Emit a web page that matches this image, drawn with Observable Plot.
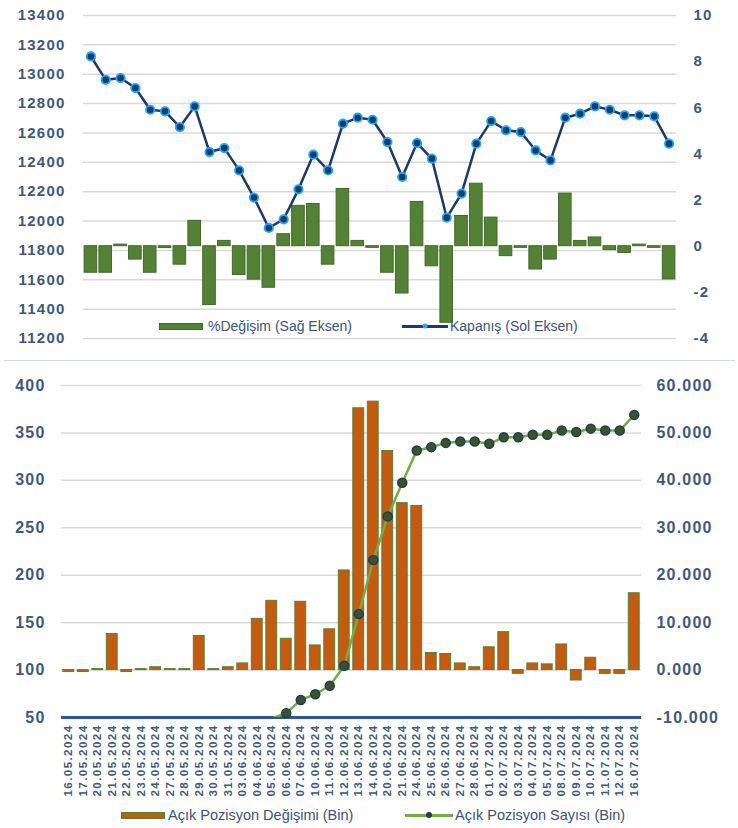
<!DOCTYPE html>
<html>
<head>
<meta charset="utf-8">
<script src="https://cdn.jsdelivr.net/npm/d3@7"></script>
<script src="https://cdn.jsdelivr.net/npm/@observablehq/plot@0.6"></script>
<style>
  body { margin: 0; background: #fff; font-family: "Liberation Sans", Arial, sans-serif; }
  #wrap { position: relative; width: 738px; height: 828px; overflow: hidden; background: #fff; }
  #top { position: absolute; left: 0; top: 0; }
  #bottom { position: absolute; left: 0; top: 362px; }
  .sep { position: absolute; left: 4px; width: 731px; top: 360px; height: 1px; background: #d6dce5; }
  .leg { position: absolute; display: flex; align-items: center; height: 16px; font-size: 14px; color: #3b5378; white-space: nowrap; }
  .sw { display: inline-block; box-sizing: border-box; }
  .ln { position: relative; display: inline-block; height: 3px; }
  .ln i { position: absolute; top: 50%; left: 50%; border-radius: 50%; transform: translate(-50%, -50%); }
</style>
</head>
<body>
<div id="wrap">
  <div id="top"></div>
  <div class="sep"></div>
  <div id="bottom"></div>
  <div class="leg" style="left:159px;top:318px"><span class="sw" style="width:44px;height:7px;background:#548235;border:1px solid #41692a;margin-right:5px"></span><span>%Değişim (Sağ Eksen)</span></div>
  <div class="leg" style="left:402px;top:318px"><span class="ln" style="width:46px;background:#1f3864;margin-right:2px"><i style="width:5px;height:5px;background:#22a7f0"></i></span><span>Kapanış (Sol Eksen)</span></div>
  <div class="leg" style="left:121px;top:807px;font-size:14.5px"><span class="sw" style="width:44px;height:7px;background:#c55a11;border:1px solid #548235;margin-right:3px"></span><span>Açık Pozisyon Değişimi (Bin)</span></div>
  <div class="leg" style="left:405px;top:807px;font-size:14.5px"><span class="ln" style="width:48px;background:#70ad47;margin-right:2px"><i style="width:6px;height:6px;background:#1f3864"></i></span><span>Açık Pozisyon Sayısı (Bin)</span></div>
</div>
<script>
// ---------- data ----------
const dates = ["16.05.2024","17.05.2024","20.05.2024","21.05.2024","22.05.2024","23.05.2024","24.05.2024","27.05.2024","28.05.2024","29.05.2024","30.05.2024","31.05.2024","03.06.2024","04.06.2024","05.06.2024","06.06.2024","07.06.2024","10.06.2024","11.06.2024","12.06.2024","13.06.2024","14.06.2024","20.06.2024","21.06.2024","24.06.2024","25.06.2024","26.06.2024","27.06.2024","28.06.2024","01.07.2024","02.07.2024","03.07.2024","04.07.2024","05.07.2024","08.07.2024","09.07.2024","10.07.2024","11.07.2024","12.07.2024","16.07.2024"];
const kapanis = [13121,12962,12974,12906,12758,12747,12640,12781,12470,12497,12345,12160,11953,12012,12216,12452,12345,12663,12704,12690,12538,12300,12531,12425,12023,12187,12527,12681,12618,12606,12481,12413,12704,12731,12781,12758,12720,12720,12713,12527];
const degisim = [-1.15,-1.15,0.07,-0.58,-1.15,-0.08,-0.8,1.1,-2.55,0.23,-1.25,-1.45,-1.8,0.52,1.75,1.83,-0.8,2.48,0.23,-0.07,-1.15,-2.05,1.92,-0.87,-3.32,1.31,2.71,1.24,-0.43,-0.07,-1.01,-0.58,2.28,0.23,0.38,-0.17,-0.29,0.07,-0.07,-1.44];
const pozDegisim = [98,98,101,138,98,101,103,101,101,136,101,103,107,154,173,133,172,126,143,205,376,383,331,276,273,118,117,107,103,124,140,96,107,106,127,89,113,96,96,181];
const pozSayisi = [null,null,null,null,null,null,null,null,null,null,null,null,null,null,-10.2,-9.1,-6.3,-5.1,-3.3,0.9,11.8,23.2,32.4,39.5,46.3,47.0,47.9,48.2,48.2,47.7,49.1,49.1,49.6,49.6,50.5,50.2,50.9,50.5,50.5,53.8];
const topLeftTicks = d3.range(11200, 13401, 200);
const topRightTicks = d3.range(-4, 11, 2);
const botLeftTicks = d3.range(50, 401, 50);
const botRightTicks = d3.range(-10, 61, 10);

const labelColor = "#40587a";
const font = "'Liberation Sans', Arial, sans-serif";

// ---------- top panel ----------
const topRight = d3.scaleLinear([-4, 10], [11200, 13400]); // right axis -> left axis units
const topData = dates.map((d, i) => ({date: d, close: kapanis[i], chg: degisim[i], y0: topRight(0), y1: topRight(degisim[i])}));

const topPlot = Plot.plot({
  width: 738, height: 360,
  marginLeft: 83, marginRight: 62, marginTop: 15, marginBottom: 22,
  style: {fontFamily: font, background: "transparent", overflow: "visible"},
  x: {type: "band", domain: dates, paddingInner: 0.15, paddingOuter: 0.075, round: false, axis: null},
  y: {domain: [11200, 13400], axis: null},
  marks: [
    Plot.gridY(topLeftTicks, {stroke: "#d9d9d9", strokeOpacity: 1, strokeWidth: 1.5}),
    Plot.barY(topData, {x: "date", y1: "y0", y2: "y1", fill: "#548235", stroke: "#41692a", strokeWidth: 1}),
    Plot.line(topData, {x: "date", y: "close", stroke: "#1f3864", strokeWidth: 2.5}),
    Plot.dot(topData, {x: "date", y: "close", r: 4.2, fill: "#123d73", stroke: "#22a7f0", strokeWidth: 1.8}),
    Plot.axisY(topLeftTicks, {anchor: "left", label: null, tickSize: 0, tickPadding: 18, fontSize: 15, fontWeight: "bold", fill: labelColor, tickFormat: d => String(d)}),
    Plot.axisY(topRightTicks.map(v => topRight(v)), {anchor: "right", label: null, tickSize: 0, tickPadding: 17, fontSize: 15, fontWeight: "bold", fill: labelColor, textAnchor: "start", tickFormat: d => String(Math.round(topRight.invert(d)))})
  ]
});
document.getElementById("top").append(topPlot);

// ---------- bottom panel ----------
const botRight = d3.scaleLinear([-10, 60], [50, 400]); // right axis -> left axis units
const botData = dates.map((d, i) => ({date: d, chg: pozDegisim[i], cnt: pozSayisi[i], cntY: pozSayisi[i] == null ? null : botRight(pozSayisi[i])}));

const botPlot = Plot.plot({
  width: 738, height: 440,
  marginLeft: 61, marginRight: 97, marginTop: 23, marginBottom: 85,
  style: {fontFamily: font, background: "transparent", overflow: "visible"},
  x: {type: "band", domain: dates, paddingInner: 0.25, paddingOuter: 0.125, round: false, axis: null},
  y: {domain: [50, 400], axis: null},
  marks: [
    Plot.gridY(botLeftTicks.filter(v => v > 50), {stroke: "#d9d9d9", strokeOpacity: 1, strokeWidth: 1.5}),
    Plot.barY(botData, {x: "date", y1: () => 100, y2: "chg", fill: "#c55a11", stroke: "#548235", strokeWidth: 1}),
    Plot.ruleY([50], {stroke: "#2f5597", strokeWidth: 3}),
    Plot.line(botData, {x: "date", y: "cntY", stroke: "#70ad47", strokeWidth: 2.5, clip: true}),
    Plot.dot(botData.filter(d => d.cnt != null && d.cnt >= -10), {x: "date", y: "cntY", r: 4.5, fill: "#375623", stroke: "#1f3864", strokeWidth: 1.5}),
    Plot.axisY(botLeftTicks, {anchor: "left", label: null, tickSize: 0, tickPadding: 16, fontSize: 16, fontWeight: "bold", fill: labelColor, tickFormat: d => String(d)}),
    Plot.axisY(botRightTicks.map(v => botRight(v)), {anchor: "right", label: null, tickSize: 0, tickPadding: 15, fontSize: 16, fontWeight: "bold", fill: labelColor, textAnchor: "start", tickFormat: d => Math.round(botRight.invert(d)).toFixed(3)}),
    Plot.axisX(dates, {anchor: "bottom", label: null, tickRotate: -90, tickSize: 0, tickPadding: 7, fontSize: 11.6, fontWeight: "bold", fill: labelColor})
  ]
});
document.getElementById("bottom").append(botPlot);

// letter spacing tweaks to match the wide reference lettering
for (const svg of [topPlot, botPlot]) {
  svg.querySelectorAll('g[aria-label="y-axis tick label"]').forEach(g => g.setAttribute("letter-spacing", "1.2"));
  svg.querySelectorAll('g[aria-label="x-axis tick label"]').forEach(g => g.setAttribute("letter-spacing", "1.4"));
}
</script>
</body>
</html>
